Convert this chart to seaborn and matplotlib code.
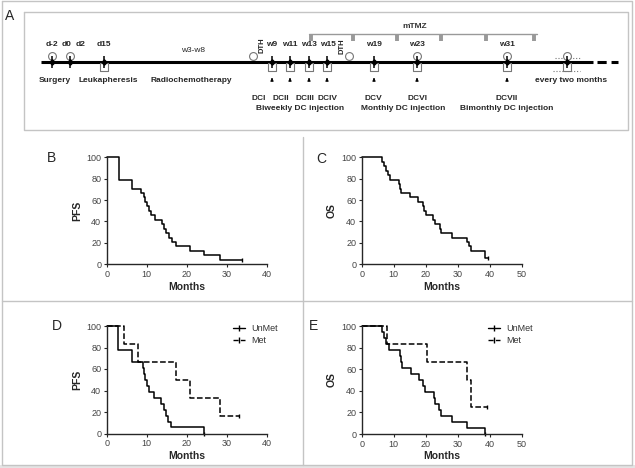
import matplotlib
matplotlib.use("Agg")
import matplotlib.pyplot as plt
from matplotlib.lines import Line2D
import numpy as np
import pandas as pd
import seaborn as sns

sns.set_style("ticks")
plt.rcParams["font.family"] = ["Liberation Sans", "DejaVu Sans"]

# %% survival data (months, percent)
pfs_t = [0, 3.0, 6.3, 8.5, 9.2, 9.6, 10.0, 10.5, 11.0, 12.0, 13.8, 14.2, 14.8, 15.5, 16.3, 17.2, 20.8, 24.3, 28.3, 33.7]
pfs_s = [100, 79.2, 70.8, 66.7, 62.5, 58.3, 54.2, 50.0, 45.8, 41.7, 37.5, 33.3, 29.2, 25.0, 20.8, 16.7, 12.5, 8.3, 4.2, 4.2]

os_t = [0, 6.4, 7.0, 7.6, 8.2, 8.7, 11.8, 12.1, 12.4, 15.2, 17.6, 19.2, 19.6, 20.1, 22.4, 22.8, 24.5, 24.9, 28.3, 33.0, 33.4, 34.0, 38.4, 39.5]
os_s = [100, 95.8, 91.7, 87.5, 83.3, 79.2, 75.0, 70.8, 66.7, 62.5, 58.3, 54.2, 50.0, 45.8, 41.7, 37.5, 33.3, 29.2, 25.0, 20.8, 16.7, 12.5, 6.3, 6.3]

pfs_unmet_t = [0, 2.8, 6.3, 9.0, 9.3, 9.6, 10.1, 10.6, 11.8, 13.6, 14.2, 14.8, 15.4, 16.0, 24.2]
pfs_unmet_s = [100, 77.8, 66.7, 61.1, 55.6, 50.0, 44.4, 38.9, 33.3, 27.8, 22.2, 16.7, 11.1, 5.6, 0]
pfs_met_t = [0, 4.2, 7.8, 17.2, 20.8, 28.3, 33.0]
pfs_met_s = [100, 83.3, 66.7, 50.0, 33.3, 16.7, 16.7]

os_unmet_t = [0, 6.4, 7.0, 7.6, 8.5, 12.1, 12.3, 12.5, 15.4, 17.8, 19.3, 19.8, 20.1, 22.5, 22.9, 24.3, 24.9, 28.3, 33.0, 38.5]
os_unmet_s = [100, 94.4, 88.9, 83.3, 77.8, 72.2, 66.7, 61.1, 55.6, 50.0, 44.4, 38.9, 38.9, 33.3, 27.8, 22.2, 16.7, 11.1, 5.6, 0]
os_met_t = [0, 7.8, 20.3, 33.0, 34.0, 39.2]
os_met_s = [100, 83.3, 66.7, 50.0, 25.0, 25.0]

# %% timeline (panel A) labels and diagram positions
top_labels = ["d-2", "d0", "d2", "d15", "w9", "w11", "w13", "w15", "w19", "w23", "w31"]
top_x = [52, 67, 81, 104, 272, 290, 309, 328, 374, 417, 507]
event_x = [52, 70, 104, 272, 290, 309, 327, 374, 417, 507, 567]
circle_x = [52, 70, 253, 349, 417, 507, 567]
square_x = [104, 272, 290, 309, 327, 374, 417, 507, 567]
arrow_x = [272, 290, 309, 327, 374, 417, 507]
dc_labels = ["DCI", "DCII", "DCIII", "DCIV", "DCV", "DCVI", "DCVII"]
dc_x = [259, 281, 305, 328, 373, 417, 507]
tmz_x = [311, 353, 397, 441, 486, 534]

W, H = 635, 468
fig = plt.figure(figsize=(6.35, 4.68), dpi=100)
bg = fig.add_axes([0, 0, 1, 1])
bg.set_xlim(0, W)
bg.set_ylim(H, 0)
bg.axis("off")

frame = "#c4c4c4"
bg.plot([1.5, 632, 632, 1.5, 1.5], [0.5, 0.5, 465, 465, 0.5], color=frame, lw=1)
bg.fill_between([0, W], 465, H, color="#e4e4e4", lw=0)
bg.plot([24, 628, 628, 24, 24], [12, 12, 130, 130, 12], color=frame, lw=1)
bg.plot([303, 303], [137, 465], color=frame, lw=1)
bg.plot([1.5, 632], [301, 301], color=frame, lw=1)

# timeline
ly = 62
bg.plot([41, 593], [ly, ly], color="black", lw=2.2, solid_capstyle="butt")
bg.plot([597, 618], [ly, ly], color="black", lw=2.2, ls=(0, (3, 1.6)))
bg.scatter(circle_x, [56] * len(circle_x), s=32, facecolor="white", edgecolor="#777", lw=0.8, zorder=3)
bg.scatter(square_x, [67] * len(square_x), marker="s", s=32, facecolor="white", edgecolor="#777", lw=0.8, zorder=3)
bg.vlines(event_x, 56, 68, color="black", lw=1.1, zorder=4)
bg.scatter(event_x, [62] * len(event_x), marker="D", s=7, color="black", zorder=5)
bg.plot([555, 580], [58, 58], color="#777", lw=0.8, ls=":")
bg.plot([553, 580], [71, 71], color="#777", lw=0.8, ls=":")
for x in arrow_x:
    bg.annotate("", xy=(x, 75), xytext=(x, 82),
                arrowprops=dict(arrowstyle="-|>", color="black", lw=0.8, mutation_scale=4))
for lab, x in zip(top_labels, top_x):
    bg.text(x, 44, lab, ha="center", va="center", fontsize=6, fontweight="bold")
for lab, x in zip(dc_labels, dc_x):
    bg.text(x, 98, lab, ha="center", va="center", fontsize=6, fontweight="bold")
bg.text(193, 50, "w3-w8", ha="center", va="center", fontsize=6)
bg.text(262, 45, "DTH", ha="center", va="center", fontsize=5.5, fontweight="bold", rotation=90)
bg.text(342, 46, "DTH", ha="center", va="center", fontsize=5.5, fontweight="bold", rotation=90)
bg.text(55, 80, "Surgery", ha="center", va="center", fontsize=6, fontweight="bold")
bg.text(108, 80, "Leukapheresis", ha="center", va="center", fontsize=6, fontweight="bold")
bg.text(191, 81, "Radiochemotherapy", ha="center", va="center", fontsize=6, fontweight="bold")
bg.text(571, 80, "every two months", ha="center", va="center", fontsize=6, fontweight="bold")
bg.text(300, 109, "Biweekly DC injection", ha="center", va="center", fontsize=6, fontweight="bold")
bg.text(403, 108, "Monthly DC injection", ha="center", va="center", fontsize=6, fontweight="bold")
bg.text(507, 108, "Bimonthly DC injection", ha="center", va="center", fontsize=6, fontweight="bold")
bg.plot([309, 537], [34, 34], color="#999", lw=1)
bg.vlines(tmz_x, 34, 41, color="#999", lw=2.8)
bg.text(415, 27, "mTMZ", ha="center", va="center", fontsize=6, fontweight="bold", color="#333")
bg.text(10, 16, "A", ha="center", va="center", fontsize=10)
for lab, (x, y) in zip("BCDE", [(52, 158), (321, 159), (57, 326), (314, 326)]):
    bg.text(x, y, lab, ha="center", va="center", fontsize=10)


def km_axes(left, top, right, bottom, xmax, ylabel):
    ax = fig.add_axes([left / W, 1 - bottom / H, (right - left) / W, (bottom - top) / H])
    ax.set_facecolor("none")
    ax.set_xlim(0, xmax)
    ax.set_ylim(0, 100)
    ax.set_xticks(np.arange(0, xmax + 1, 10))
    ax.set_yticks(np.arange(0, 101, 20))
    sns.despine(ax=ax)
    ax.spines["left"].set_linewidth(1)
    ax.spines["bottom"].set_linewidth(1)
    ax.tick_params(length=2.5, width=0.8, labelsize=6.5, labelcolor="#444", pad=1.5)
    return ax


def km(ax, t, s, ls="-"):
    df = pd.DataFrame({"t": t, "s": s})
    sns.lineplot(data=df, x="t", y="s", drawstyle="steps-post", color="black", lw=1.1,
                 ls=ls, estimator=None, sort=False, ax=ax, clip_on=False)
    ax.plot(t[-1], s[-1], marker="|", ms=3, color="black", mew=1, clip_on=False)


axB = km_axes(106.7, 157.3, 266.7, 264.3, 40, "PFS")
km(axB, pfs_t, pfs_s)
axC = km_axes(361.7, 157.3, 521.7, 264.3, 50, "OS")
km(axC, os_t, os_s)
axD = km_axes(106.7, 326, 266.7, 433.5, 40, "PFS")
km(axD, pfs_unmet_t, pfs_unmet_s)
km(axD, pfs_met_t, pfs_met_s, ls="--")
axE = km_axes(361.7, 326, 521.7, 434, 50, "OS")
km(axE, os_unmet_t, os_unmet_s)
km(axE, os_met_t, os_met_s, ls="--")
for ax, lab in zip([axB, axC, axD, axE], ["PFS", "OS", "PFS", "OS"]):
    ax.set_ylabel(lab, fontsize=7.5, fontweight="bold", labelpad=3)
    ax.set_xlabel("Months", fontsize=7.5, fontweight="bold", labelpad=2)

handles = [Line2D([], [], color="black", lw=1, marker="|", ms=4),
           Line2D([], [], color="black", lw=1, ls="--", marker="|", ms=4)]
for ax in [axD, axE]:
    ax.legend(handles, ["UnMet", "Met"], loc="upper right", bbox_to_anchor=(1.12, 1.09),
              frameon=False, fontsize=6.5, handlelength=1.3, handletextpad=0.7,
              labelspacing=0.3, labelcolor="#333")

fig.savefig("out.png", dpi=100)
